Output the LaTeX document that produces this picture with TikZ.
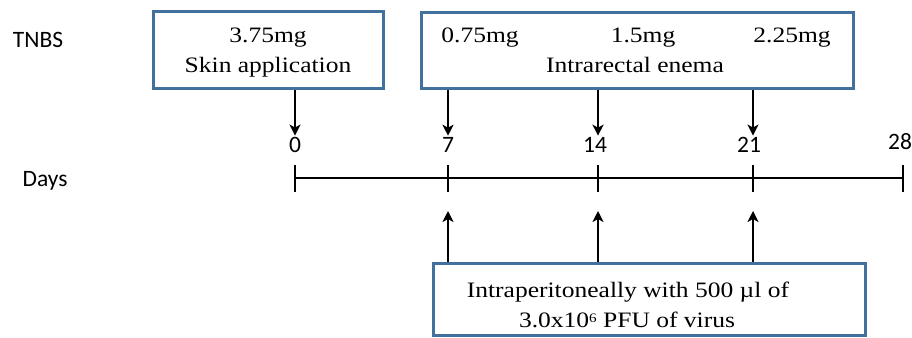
\documentclass[tikz,border=0pt]{standalone}
\usepackage{fontspec}
\setmainfont{Liberation Serif}[FakeStretch=1.16]
\newfontfamily\labfont{Carlito}
\usetikzlibrary{arrows.meta}
\definecolor{boxblue}{HTML}{41719C}

\tikzset{
  stepbox/.style={draw=boxblue,line width=3pt,inner sep=0pt},
  boxtext/.style={font=\fontsize{22}{26}\selectfont,inner sep=0pt,anchor=base},
  daytext/.style={font=\labfont\fontsize{23.5}{27}\selectfont,inner sep=1pt,anchor=base},
  arr/.style={-{Stealth[length=11pt,width=11pt,inset=3pt]},line width=2.4pt},
  axis/.style={line width=2.8pt},
}

\begin{document}
\begin{tikzpicture}[x=1pt,y=-1pt]
    \useasboundingbox (0,0) rectangle (912,337);

    % row labels
    \node[daytext] (tnbs) at (38,48) {TNBS};
    \node[daytext] (days) at (45,186) {Days};

    % boxes
    \node[stepbox,minimum width=230pt,minimum height=76pt] (skin) at (268,50) {};
    \node[boxtext] (skindose) at (268,43) {3.75mg};
    \node[boxtext] (skinlab) at (268,73) {Skin application};

    \node[stepbox,minimum width=432pt,minimum height=75pt] (enema) at (637,50.5) {};
    \node[boxtext] (dose7) at (480,43) {0.75mg};
    \node[boxtext] (dose14) at (643,43) {1.5mg};
    \node[boxtext] (dose21) at (792,43) {2.25mg};
    \node[boxtext] (enemalab) at (635,72) {Intrarectal enema};

    \node[stepbox,minimum width=432pt,minimum height=72pt] (virus) at (649,299) {};
    \node[boxtext] (virus1) at (628,297) {Intraperitoneally with 500 µl of};
    \node[boxtext] (virus2) at (627,327) {3.0x10\raisebox{5pt}{\fontsize{13}{13}\selectfont 6} PFU of virus};

    % time axis
    \coordinate (t0) at (295,178);
    \coordinate (t7) at (448,178);
    \coordinate (t14) at (598,178);
    \coordinate (t21) at (753,178);
    \coordinate (t28) at (903,178);
    \draw[axis] (t0) -- (t28);
    \foreach \t in {t0,t7,t14,t21,t28}
        \draw[axis] ([yshift=13pt]\t) -- ([yshift=-14pt]\t);

    \node[daytext] (d0) at (295,152) {0};
    \node[daytext] (d7) at (448,152) {7};
    \node[daytext] (d14) at (595,152) {14};
    \node[daytext] (d21) at (749,152) {21};
    \node[daytext] (d28) at (900,149) {28};

    % TNBS arrows
    \draw[arr] (skin.south -| t0) -- (t0 |- d0.north);
    \draw[arr] (enema.south -| t7) -- (t7 |- d7.north);
    \draw[arr] (enema.south -| t14) -- (t14 |- d14.north);
    \draw[arr] (enema.south -| t21) -- (t21 |- d21.north);

    % virus arrows
    \draw[arr] (virus.north -| t7) -- ([yshift=-33pt]t7);
    \draw[arr] (virus.north -| t14) -- ([yshift=-33pt]t14);
    \draw[arr] (virus.north -| t21) -- ([yshift=-33pt]t21);
\end{tikzpicture}
\end{document}
